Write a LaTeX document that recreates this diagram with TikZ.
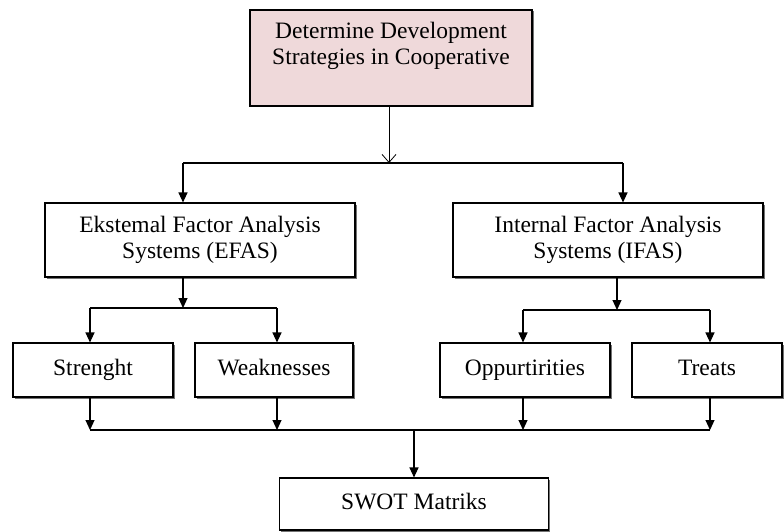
\documentclass[tikz,border=0pt]{standalone}
\usepackage{fontspec}
\setmainfont{Liberation Serif}
\usetikzlibrary{arrows.meta,shadows}
\definecolor{boxpink}{RGB}{239,217,218}
\begin{document}
\begin{tikzpicture}[x=1pt,y=-1pt,
    box/.style={shape=rectangle,draw=black,line width=1.1pt,fill=white,align=center,
        font=\fontsize{23.5}{26}\selectfont,
        drop shadow={shadow xshift=1.5pt,shadow yshift=-1.5pt,fill=black!55,opacity=1}},
    onebox/.style={box,text height=16pt,text depth=5pt},
    bar/.style={line width=1.1pt},
    arr/.style={bar,-{Triangle[length=10pt,width=9pt]}},
    openarr/.style={line width=0.8pt,-{Straight Barb[length=8pt,width=14pt]}}]
        \useasboundingbox (0,0) rectangle (784,532);

        \node[box,fill=boxpink,minimum width=282pt,minimum height=96pt] (top) at (391,58) {Determine Development\\Strategies in Cooperative\\[4pt]};
        \node[box,minimum width=310pt,minimum height=74pt] (efas) at (200,240) {Ekstemal Factor Analysis\\Systems (EFAS)};
        \node[box,minimum width=310pt,minimum height=74pt] (ifas) at (608,240) {Internal Factor Analysis\\Systems (IFAS)};
        \node[onebox,minimum width=160pt,minimum height=54pt] (str) at (93,370) {Strenght};
        \node[onebox,minimum width=158pt,minimum height=54pt] (weak) at (274,370) {Weaknesses};
        \node[onebox,minimum width=170pt,minimum height=54pt] (opp) at (525,370) {Oppurtirities};
        \node[onebox,minimum width=150pt,minimum height=54pt] (trt) at (707,370) {Treats};
        \node[onebox,minimum width=269pt,minimum height=52pt] (swot) at (414,504) {SWOT Matriks};

        \coordinate (busAL) at (183,163);
        \coordinate (busAR) at (623,163);
        \coordinate (busBL) at (90,308);
        \coordinate (busBR) at (277,308);
        \coordinate (busCM) at (617,310);
        \coordinate (busCL) at (523,310);
        \coordinate (busCR) at (710,310);
        \coordinate (busDL) at (90,430);
        \coordinate (busDR) at (710,430);

        \draw[openarr] (top.south -| 389,0) -- (389,163);
        \draw[bar] (busAL) -- (busAR);
        \draw[arr] (busAL) -- (busAL |- efas.north);
        \draw[arr] (busAR) -- (busAR |- ifas.north);

        \draw[arr] (busAL |- efas.south) -- (busAL |- busBL);
        \draw[bar] (busBL) -- (busBR);
        \draw[arr] (busBL) -- (busBL |- str.north);
        \draw[arr] (busBR) -- (busBR |- weak.north);

        \draw[arr] (busCM |- ifas.south) -- (busCM);
        \draw[bar] (busCL) -- (busCR);
        \draw[arr] (busCL) -- (busCL |- opp.north);
        \draw[arr] (busCR) -- (busCR |- trt.north);

        \draw[arr] (busDL |- str.south) -- (busDL);
        \draw[arr] (busBR |- weak.south) -- (busBR |- busDL);
        \draw[arr] (busCL |- opp.south) -- (busCL |- busDL);
        \draw[arr] (busDR |- trt.south) -- (busDR);
        \draw[bar] (busDL) -- (busDR);
        \draw[arr] (swot.north |- busDL) -- (swot.north);
    \end{tikzpicture}
\end{document}
